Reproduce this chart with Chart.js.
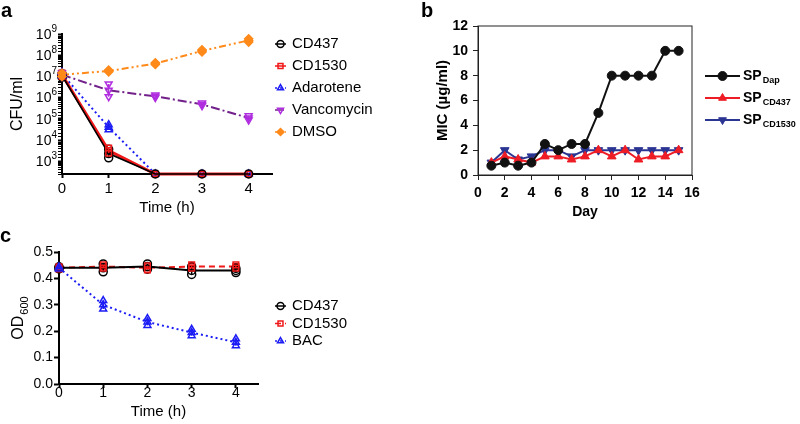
<!DOCTYPE html>
<html>
<head>
<meta charset="utf-8">
<script src="https://cdn.jsdelivr.net/npm/chart.js@4.4.1/dist/chart.umd.min.js"></script>
<style>
  body { margin: 0; width: 800px; height: 424px; background: #fff; position: relative; overflow: hidden; }
  canvas { position: absolute; }
  .tag { position: absolute; font: bold 20px Arial, 'Liberation Sans', sans-serif; line-height: 20px; }
</style>
</head>
<body>
<canvas id="chart-a" width="400" height="220" style="left:0;top:0"></canvas>
<canvas id="chart-b" width="400" height="230" style="left:400px;top:0"></canvas>
<canvas id="chart-c" width="400" height="209" style="left:0;top:215px"></canvas>
<div class="tag" style="left:1px;top:0">a</div>
<div class="tag" style="left:421px;top:0">b</div>
<div class="tag" style="left:0;top:225px">c</div>
<script>
const FONT = "Arial, 'Liberation Sans', sans-serif";
Chart.defaults.font.family = FONT;
Chart.defaults.color = '#000';

// panel a - killing curves, CFU/ml
const hoursA = [0, 1, 2, 3, 4];
const cd437A = [1.1e7, 2.3e3, 250, 250, 250];
const cd1530A = [1.2e7, 3.2e3, 250, 250, 250];
const adaroteneA = [1.3e7, 4.0e4, 250, 250, 250];
const vancoA = [1.2e7, 2.2e6, 1.15e6, 4.8e5, 1.1e5];
const dmsoA = [1.2e7, 1.8e7, 4.0e7, 1.6e8, 5.0e8];
// spread, in decades
const cd437AErr = [0.08, 0.2, 0, 0, 0];
const cd1530AErr = [0.08, 0.12, 0, 0, 0];
const adaroteneAErr = [0.08, 0.12, 0, 0, 0];
const vancoAErr = [0.08, 0.3, 0.06, 0.06, 0.1];
const dmsoAErr = [0.08, 0.04, 0.04, 0.05, 0.08];
const powersA = [3, 4, 5, 6, 7, 8, 9];

// panel b - serial passage MIC
const days = [1, 2, 3, 4, 5, 6, 7, 8, 9, 10, 11, 12, 13, 14, 15];
const micDap = [0.75, 1, 0.75, 1, 2.5, 2, 2.5, 2.5, 5, 8, 8, 8, 8, 10, 10];
const micCD437 = [1, 1.5, 1.25, 1, 1.5, 1.5, 1.25, 1.5, 2, 1.5, 2, 1.25, 1.5, 1.5, 2];
const micCD1530 = [1, 2, 1.25, 1.5, 2, 2, 1.5, 2, 2, 2, 2, 2, 2, 2, 2];

// panel c - OD600
const hoursC = [0, 1, 2, 3, 4];
const cd437C = [0.44, 0.44, 0.445, 0.43, 0.43];
const cd1530C = [0.44, 0.445, 0.44, 0.445, 0.445];
const bacC = [0.44, 0.30, 0.235, 0.195, 0.158];
const cd437CErr = [0.004, 0.015, 0.01, 0.015, 0.008];
const cd1530CErr = [0.004, 0.006, 0.008, 0.006, 0.006];
const bacCErr = [0.004, 0.016, 0.013, 0.012, 0.013];


const pts = (xs, ys) => xs.map((x, i) => ({ x: x, y: ys[i] }));

const isPow10 = (v) => {
    const e = Math.log10(v);
    return Math.abs(e - Math.round(e)) < 1e-6;
}

const markerOpts = (ds, radius) => ({
    pointStyle: ds.pointStyle,
    rotation: ds.pointRotation || 0,
    radius: radius,
    borderWidth: ds.pointBorderWidth
});

// replicate spread drawn as a bar with a marker at each end
const errorBars = {
    id: 'errorBars',
    afterDatasetsDraw(chart) {
        const ctx = chart.ctx;
        const yScale = chart.scales.y;
        const isLog = yScale.type === 'logarithmic';

        chart.data.datasets.forEach((ds, i) => {
            if (!ds.errors) return;
            const meta = chart.getDatasetMeta(i);
            ctx.save();
            meta.data.forEach((pt, j) => {
                const e = ds.errors[j];
                if (!e) return;
                const v = ds.data[j].y;
                const lo = isLog ? v / Math.pow(10, e) : v - e;
                const hi = isLog ? v * Math.pow(10, e) : v + e;
                const y1 = yScale.getPixelForValue(lo);
                const y2 = yScale.getPixelForValue(hi);
                ctx.strokeStyle = ds.pointBorderColor;
                ctx.lineWidth = 1.5;
                ctx.beginPath();
                ctx.moveTo(pt.x, y1);
                ctx.lineTo(pt.x, y2);
                ctx.stroke();
                ctx.fillStyle = ds.pointBackgroundColor;
                ctx.lineWidth = ds.pointBorderWidth;
                Chart.helpers.drawPoint(ctx, markerOpts(ds, ds.pointRadius), pt.x, y1);
                Chart.helpers.drawPoint(ctx, markerOpts(ds, ds.pointRadius), pt.x, y2);
            });
            ctx.restore();
        });
    }
};

// legend to the right: short line, marker, label (text after "_" is a subscript)
const sideLegend = {
    id: 'sideLegend',
    afterDraw(chart, args, opts) {
        const ctx = chart.ctx;
        chart.data.datasets.forEach((ds, i) => {
            const y = opts.y + i * opts.dy;
            ctx.save();
            ctx.strokeStyle = ds.borderColor;
            ctx.lineWidth = opts.lineWidth || ds.borderWidth;
            ctx.setLineDash(opts.solid ? [] : (ds.borderDash || []));
            ctx.beginPath();
            ctx.moveTo(opts.x, y);
            ctx.lineTo(opts.x + opts.len, y);
            ctx.stroke();
            ctx.setLineDash([]);

            ctx.fillStyle = ds.pointBackgroundColor;
            ctx.strokeStyle = ds.pointBorderColor;
            ctx.lineWidth = ds.pointBorderWidth;
            Chart.helpers.drawPoint(ctx, markerOpts(ds, opts.radius), opts.x + opts.len / 2, y);

            const parts = ds.label.split('_');
            const tx = opts.x + opts.len + opts.gap;
            ctx.fillStyle = '#000';
            ctx.textBaseline = 'middle';
            ctx.font = opts.font;
            ctx.fillText(parts[0], tx, y);
            if (parts[1]) {
                const w = ctx.measureText(parts[0]).width;
                ctx.font = opts.subFont;
                ctx.fillText(parts[1], tx + w + 1, y + 5);
            }
            ctx.restore();
        });
    }
};

// "10" with a raised exponent at each decade of the log axis
const powerLabels = {
    id: 'powerLabels',
    afterDraw(chart, args, opts) {
        const ctx = chart.ctx;
        const scale = chart.scales.y;
        ctx.save();
        ctx.fillStyle = '#000';
        ctx.textBaseline = 'middle';
        opts.powers.forEach((p) => {
            const y = scale.getPixelForValue(Math.pow(10, p));
            ctx.font = '10px ' + FONT;
            const we = ctx.measureText(String(p)).width;
            ctx.textAlign = 'left';
            ctx.fillText(String(p), opts.right - we, y - 5);
            ctx.font = '14px ' + FONT;
            ctx.textAlign = 'right';
            ctx.fillText('10', opts.right - we, y + 1);
        });
        ctx.restore();
    }
};

// rotated y title with a subscript part
const subTitle = {
    id: 'subTitle',
    afterDraw(chart, args, opts) {
        const ctx = chart.ctx;
        const area = chart.chartArea;
        ctx.save();
        ctx.translate(opts.x, (area.top + area.bottom) / 2);
        ctx.rotate(-Math.PI / 2);
        ctx.fillStyle = '#000';
        ctx.textBaseline = 'middle';
        ctx.font = '16px ' + FONT;
        const w1 = ctx.measureText(opts.main).width;
        ctx.font = '11px ' + FONT;
        const w2 = ctx.measureText(opts.sub).width;
        const x0 = -(w1 + w2 + 1) / 2;
        ctx.textAlign = 'left';
        ctx.font = '16px ' + FONT;
        ctx.fillText(opts.main, x0, 0);
        ctx.font = '11px ' + FONT;
        ctx.fillText(opts.sub, x0 + w1 + 1, 6);
        ctx.restore();
    }
};

const frame = {
    id: 'frame',
    afterDraw(chart) {
        const { ctx, chartArea } = chart;
        ctx.save();
        ctx.strokeStyle = '#222';
        ctx.lineWidth = 1;
        ctx.strokeRect(chartArea.left, chartArea.top, chartArea.width, chartArea.height);
        ctx.restore();
    }
};


const openSeries = (label, xs, ys, errs, colour, pointColour, style, extra) => Object.assign({
    label: label,
    data: pts(xs, ys),
    errors: errs,
    borderColor: colour,
    borderWidth: 2,
    pointStyle: style,
    pointRadius: 4,
    pointBorderWidth: 1.5,
    pointBorderColor: pointColour,
    pointBackgroundColor: 'rgba(255,255,255,0)',
    tension: 0,
    clip: false
}, extra || {});

const axisX = (max, height, tickPad, titlePad, size) => ({
    type: 'linear',
    min: 0,
    max: max,
    afterFit: (s) => { s.height = height; },
    border: { color: '#000', width: 2 },
    grid: { drawOnChartArea: false, tickLength: 4, tickWidth: 2, tickColor: '#000' },
    ticks: { stepSize: 1, includeBounds: false, padding: tickPad, font: { size: size } },
    title: { display: true, text: 'Time (h)', font: { size: 15 }, padding: { top: 0, bottom: titlePad } }
});


// ---------- panel a ----------
new Chart(document.getElementById('chart-a'), {
    type: 'line',
    data: {
        datasets: [
            openSeries('CD437', hoursA, cd437A, cd437AErr, '#000', '#000', 'circle', { borderWidth: 1.6 }),
            openSeries('CD1530', hoursA, cd1530A, cd1530AErr, '#f01818', '#f01818', 'rect', { borderWidth: 3 }),
            openSeries('Adarotene', hoursA, adaroteneA, adaroteneAErr, '#1c1cf5', '#1c1cf5', 'triangle', { borderDash: [2, 3] }),
            openSeries('Vancomycin', hoursA, vancoA, vancoAErr, '#72208a', '#b02ee0', 'triangle', { borderDash: [9, 3, 2, 3], pointRotation: 180 }),
            openSeries('DMSO', hoursA, dmsoA, dmsoAErr, '#ff8a1a', '#ff8a1a', 'rectRot', { borderDash: [7, 3, 2, 3, 2, 3], pointBackgroundColor: '#ff8a1a' })
        ]
    },
    options: {
        responsive: false,
        animation: false,
        devicePixelRatio: 1,
        layout: { padding: { left: 0, top: 34, right: 128, bottom: 0 } },
        plugins: {
            legend: { display: false },
            tooltip: { enabled: false },
            sideLegend: { x: 275, y: 44, dy: 22, len: 11, gap: 6, radius: 3.5, lineWidth: 1.5, font: '15px ' + FONT },
            powerLabels: { powers: powersA, right: 57 }
        },
        scales: {
            x: axisX(4.5, 46, 2, 3, 15),
            y: {
                type: 'logarithmic',
                min: 250,
                max: 1e9,
                afterFit: (s) => { s.width = 62; },
                border: { color: '#000', width: 2 },
                grid: {
                    drawOnChartArea: false, tickLength: 4, tickColor: '#000',
                    tickWidth: (c) => (c.tick && isPow10(c.tick.value)) ? 2 : 1
                },
                ticks: { autoSkip: false, padding: 1, font: { size: 14 }, callback: () => '' },
                title: { display: true, text: 'CFU/ml', font: { size: 16 }, padding: { top: 8 } }
            }
        }
    },
    plugins: [errorBars, sideLegend, powerLabels]
});


// ---------- panel b ----------
const filled = (label, ys, colour, style, extra) => Object.assign({
    label: label,
    data: pts(days, ys),
    borderColor: colour,
    borderWidth: 2,
    pointStyle: style,
    pointRadius: 4.5,
    pointBorderWidth: 1,
    pointBorderColor: colour,
    pointBackgroundColor: colour,
    tension: 0,
    clip: false
}, extra || {});

const boldTick = { size: 14, weight: 'bold' };

new Chart(document.getElementById('chart-b'), {
    type: 'line',
    data: {
        datasets: [
            filled('SP_Dap', micDap, '#111111', 'circle'),
            filled('SP_CD437', micCD437, '#ee1c25', 'triangle', { pointRadius: 5 }),
            filled('SP_CD1530', micCD1530, '#2b3592', 'triangle', { pointRadius: 5, pointRotation: 180 })
        ]
    },
    options: {
        responsive: false,
        animation: false,
        devicePixelRatio: 1,
        layout: { padding: { left: 0, top: 26, right: 108, bottom: 0 } },
        plugins: {
            legend: { display: false },
            tooltip: { enabled: false },
            sideLegend: {
                x: 305, y: 76, dy: 22, len: 35, gap: 3, radius: 4.5, solid: true,
                font: 'bold 14px ' + FONT, subFont: 'bold 9px ' + FONT
            }
        },
        scales: {
            x: {
                type: 'linear',
                min: 0,
                max: 16,
                afterFit: (s) => { s.height = 55; },
                border: { color: '#222', width: 1 },
                grid: { drawOnChartArea: false, tickLength: 5, tickColor: '#222' },
                ticks: { stepSize: 2, padding: 5, font: boldTick },
                title: { display: true, text: 'Day', font: { size: 14, weight: 'bold' }, padding: { top: 0, bottom: 9 } }
            },
            y: {
                min: 0,
                max: 12,
                afterFit: (s) => { s.width = 78; },
                border: { color: '#222', width: 1 },
                grid: { drawOnChartArea: false, tickLength: 5, tickColor: '#222' },
                ticks: { stepSize: 2, padding: 5, font: boldTick },
                title: { display: true, text: 'MIC (µg/ml)', font: { size: 15, weight: 'bold' }, padding: { top: 34 } }
            }
        }
    },
    plugins: [frame, sideLegend]
});


// ---------- panel c ----------
new Chart(document.getElementById('chart-c'), {
    type: 'line',
    data: {
        datasets: [
            openSeries('CD437', hoursC, cd437C, cd437CErr, '#000', '#000', 'circle'),
            openSeries('CD1530', hoursC, cd1530C, cd1530CErr, '#f01818', '#f01818', 'rect', { borderDash: [6, 4] }),
            openSeries('BAC', hoursC, bacC, bacCErr, '#1c1cf5', '#1c1cf5', 'triangle', { borderDash: [2, 3] })
        ]
    },
    options: {
        responsive: false,
        animation: false,
        devicePixelRatio: 1,
        layout: { padding: { left: 0, top: 37, right: 142, bottom: 0 } },
        plugins: {
            legend: { display: false },
            tooltip: { enabled: false },
            sideLegend: { x: 275, y: 91, dy: 17.5, len: 11, gap: 6, radius: 3.5, lineWidth: 1.5, font: '15px ' + FONT },
            subTitle: { x: 19, main: 'OD', sub: '600' }
        },
        scales: {
            x: axisX(4.5, 40, -3, 3, 14),
            y: {
                min: 0,
                max: 0.5,
                afterFit: (s) => { s.width = 59; },
                border: { color: '#000', width: 2 },
                grid: { drawOnChartArea: false, tickLength: 5, tickWidth: 2, tickColor: '#000' },
                ticks: { stepSize: 0.1, padding: 1, font: { size: 14 }, callback: (v) => v.toFixed(1) }
            }
        }
    },
    plugins: [errorBars, sideLegend, subTitle]
});
</script>
</body>
</html>
